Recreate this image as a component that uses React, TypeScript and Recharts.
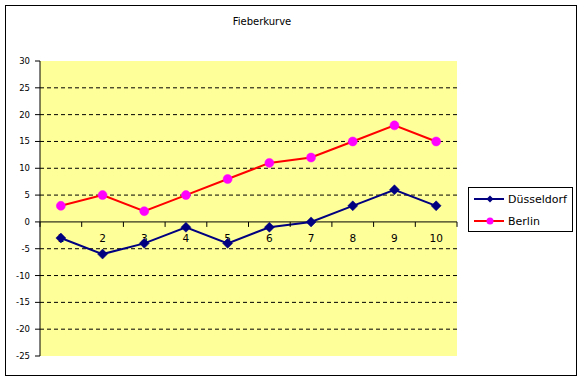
import { CartesianGrid, Line, LineChart, ReferenceDot, ReferenceLine, XAxis, YAxis } from "recharts";

const days = [1, 2, 3, 4, 5, 6, 7, 8, 9, 10];
const duesseldorf = [-3, -6, -4, -1, -4, -1, 0, 3, 6, 3];
const berlin = [3, 5, 2, 5, 8, 11, 12, 15, 18, 15];
const yTicks = [30, 25, 20, 15, 10, 5, 0, -5, -10, -15, -20, -25];

const gridValues = yTicks.filter((v) => v !== 0 && v !== 30 && v !== -25);
const data = days.map((day, i) => ({ day, duesseldorf: duesseldorf[i], berlin: berlin[i] }));
const boundaries = [...days.map((d) => d - 0.5), days[days.length - 1] + 0.5];

const navy = "#000080";
const red = "#FF0000";
const magenta = "#FF00FF";
const font = "'DejaVu Sans', Verdana, sans-serif";

function diamondPath(cx: number, cy: number, r: number) {
  return `M${cx},${cy - r}L${cx + r},${cy}L${cx},${cy + r}L${cx - r},${cy}Z`;
}

function DiamondDot(props: any) {
  const { cx, cy } = props;
  if (cx == null || cy == null) return null;
  return <path d={diamondPath(cx, cy, 5)} fill={navy} stroke={navy} strokeWidth={0.5} />;
}

function DayLabel(label: number) {
  return (props: any) => {
    const { cx, cy } = props;
    if (cx == null || cy == null) return <g />;
    return (
      <text x={cx} y={cy + 20} textAnchor="middle" fontSize={10.5} fontFamily={font} fill="#000">
        {label}
      </text>
    );
  };
}

function TickMark(props: any) {
  const { cx, cy } = props;
  if (cx == null || cy == null) return <g />;
  return <line x1={cx} y1={cy} x2={cx} y2={cy + 5} stroke="#000" strokeWidth={1} />;
}

function LegendBox() {
  const rows = [
    { name: "Düsseldorf", color: navy, marker: "diamond" },
    { name: "Berlin", color: red, marker: "circle" },
  ];
  return (
    <div
      style={{
        position: "absolute",
        left: 468,
        top: 187,
        width: 105,
        height: 45,
        border: "1px solid #000",
        boxSizing: "border-box",
        background: "#fff",
        fontFamily: font,
        fontSize: 11,
      }}
    >
      {rows.map((r) => (
        <div key={r.name} style={{ display: "flex", alignItems: "center", height: 22 }}>
          <svg width={36} height={20} style={{ marginLeft: 3 }}>
            <line x1={2} y1={10} x2={32} y2={10} stroke={r.color} strokeWidth={2} />
            {r.marker === "diamond" ? (
              <path d={diamondPath(18, 10, 3.5)} fill={navy} />
            ) : (
              <circle cx={18} cy={10} r={3.5} fill={magenta} />
            )}
          </svg>
          <span>{r.name}</span>
        </div>
      ))}
    </div>
  );
}

export default function App() {
  return (
    <div style={{ position: "absolute", left: 0, top: 0, width: 582, height: 381, background: "#fff" }}>
      <div
        style={{
          position: "absolute",
          left: 5,
          top: 5,
          width: 572,
          height: 371,
          border: "1px solid #000",
          boxSizing: "border-box",
        }}
      />
      <div
        style={{
          position: "absolute",
          left: 0,
          width: 524,
          top: 16,
          textAlign: "center",
          fontFamily: font,
          fontSize: 10,
          color: "#000",
        }}
      >
        Fieberkurve
      </div>
      <div style={{ position: "absolute", left: 0, top: 0 }}>
        <LineChart width={582} height={381} data={data} margin={{ top: 61, right: 125, bottom: 25, left: 0 }}>
          <CartesianGrid
            fill="#FFFF99"
            fillOpacity={1}
            vertical={false}
            horizontalValues={gridValues}
            stroke="#000"
            strokeDasharray="4 3"
          />
          <XAxis dataKey="day" type="number" domain={[0.5, 10.5]} hide />
          <YAxis
            domain={[-25, 30]}
            ticks={yTicks}
            interval={0}
            width={40}
            axisLine={{ stroke: "#000" }}
            tickLine={{ stroke: "#000" }}
            tickSize={5}
            tickMargin={5}
            tick={{ fontSize: 8.5, fill: "#000", fontFamily: font }}
          />
          <ReferenceLine y={0} stroke="#000" strokeWidth={1} />
          {boundaries.map((b) => (
            <ReferenceDot key={`t${b}`} x={b} y={0} r={0} shape={TickMark} />
          ))}
          {days.map((d) => (
            <ReferenceDot key={`l${d}`} x={d} y={0} r={0} shape={DayLabel(d)} />
          ))}
          <Line
            dataKey="duesseldorf"
            name="Düsseldorf"
            stroke={navy}
            strokeWidth={2}
            dot={(p: any) => <DiamondDot key={`d${p.index}`} {...p} />}
            activeDot={false}
            isAnimationActive={false}
          />
          <Line
            dataKey="berlin"
            name="Berlin"
            stroke={red}
            strokeWidth={2}
            dot={{ r: 4.5, fill: magenta, stroke: magenta, strokeWidth: 0.5 }}
            activeDot={false}
            isAnimationActive={false}
          />
        </LineChart>
      </div>
      <LegendBox />
    </div>
  );
}
